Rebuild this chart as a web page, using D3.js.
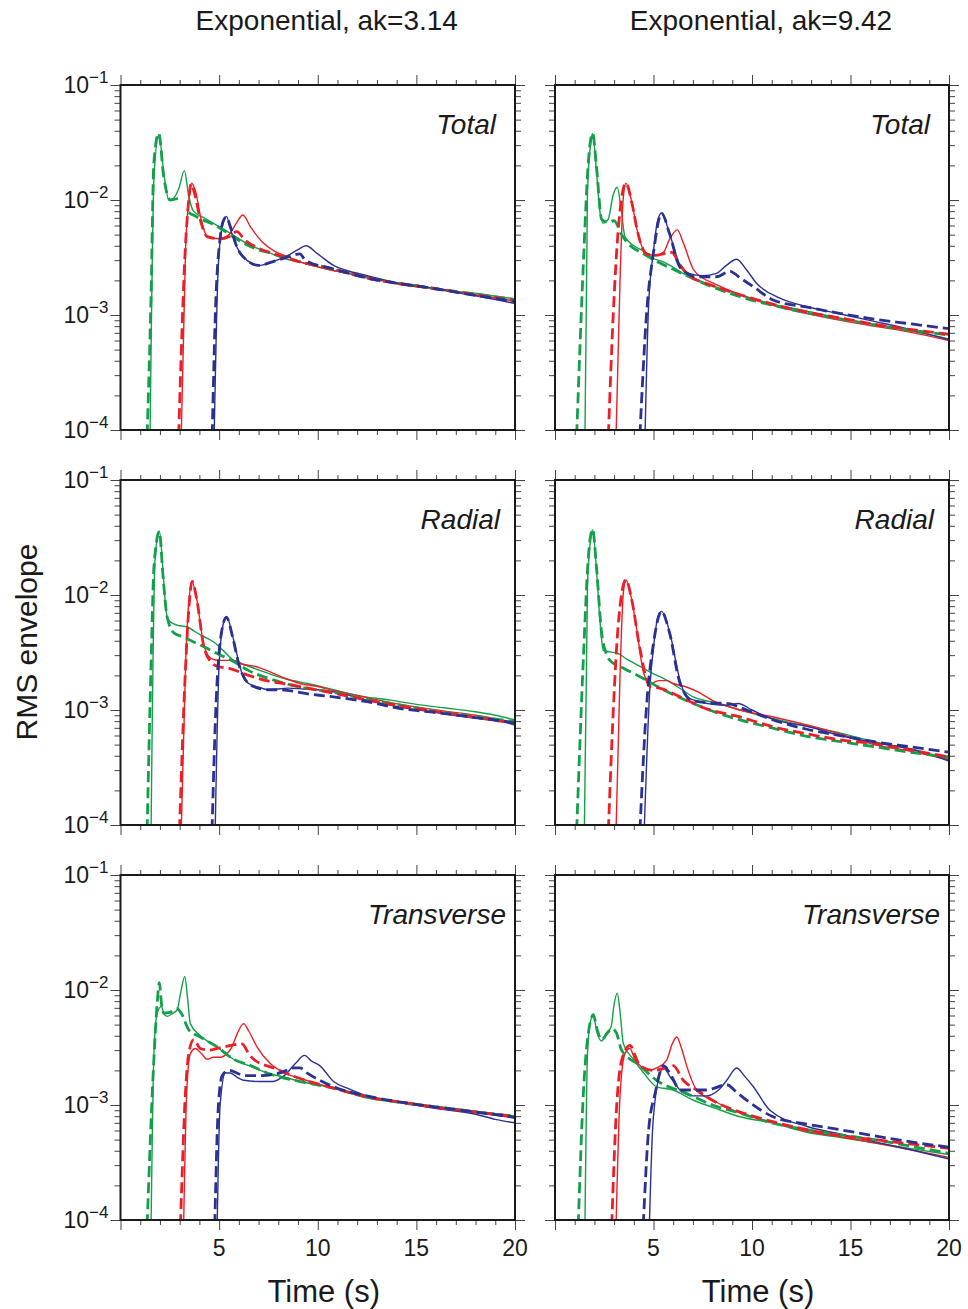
<!DOCTYPE html>
<html>
<head>
<meta charset="utf-8">
<script src="https://cdn.jsdelivr.net/npm/d3@7"></script>
<style>
    body { margin: 0; background: #fff; }
    svg { display: block; font-family: "Liberation Sans", Arial, sans-serif; }
</style>
</head>
<body>
<svg id="fig" width="968" height="1309"></svg>
<script>
////////////////////////////////////////////////////////////
// Données : enveloppes RMS [temps (s), amplitude]        //
// g = vert, r = rouge, b = bleu ; Obs = trait plein,     //
// Mod = tirets (modèle)                                  //
////////////////////////////////////////////////////////////

const columnTitles = ["Exponential, ak=3.14", "Exponential, ak=9.42"];
const rowLabels = ["Total", "Radial", "Transverse"];
const xTickLabels = [5, 10, 15, 20];
const yDecades = [1e-4, 1e-3, 1e-2, 1e-1];
const yExponents = ["−4", "−3", "−2", "−1"];

// Total, ak=3.14
const tA_gObs = [[1.5,9e-5],[1.7,0.016],[1.94,0.037],[2.2,0.017],[2.45,0.0100],[2.7,0.0104],[2.95,0.0125],[3.24,0.018],[3.45,0.011],[3.7,0.0080],[4.3,0.0069],[4.9,0.0060],[5.6,0.0051],[6.5,0.0041],[7.5,0.0035],[8.3,0.0031],[9.1,0.0029],[10.5,0.0025],[11.5,0.0023],[12.5,0.0021],[14,0.0019],[15.2,0.0018],[15.9,0.0017],[16.8,0.0016],[17.5,0.00158],[18.5,0.0015],[20,0.00138]];
const tA_gMod = [[1.35,9e-5],[1.55,0.0015],[1.69,0.021],[1.94,0.038],[2.19,0.016],[2.53,0.0100],[2.8,0.0102],[3.1,0.0108],[3.25,null],[3.45,0.0078],[4.1,0.0068],[4.9,0.0059],[5.7,0.0048],[6.5,0.0040],[7.7,0.0034],[9.1,0.0029],[10.8,0.0025],[12.5,0.0021],[14.2,0.00188],[15.9,0.0017],[18,0.00152],[20,0.00136]];
const tA_rObs = [[3.08,9e-5],[3.3,0.0038],[3.48,0.0105],[3.6,0.014],[3.8,0.012],[4.1,0.0066],[4.4,0.0048],[5.0,0.0046],[5.5,0.0050],[5.9,0.0064],[6.2,0.0074],[6.6,0.0058],[7.2,0.0043],[7.8,0.0036],[8.5,0.0032],[9.1,0.0029],[10.5,0.0025],[12.5,0.00215],[14.5,0.0018],[16,0.0017],[18,0.0015],[20,0.00132]];
const tA_rMod = [[2.95,9e-5],[3.29,0.0039],[3.46,0.0100],[3.58,0.0138],[3.75,0.0115],[4.05,0.0067],[4.4,0.0048],[5.0,0.0046],[5.5,0.0048],[5.9,0.0053],[6.3,0.0045],[7.0,0.0038],[7.8,0.0034],[9.1,0.0029],[10.8,0.0025],[12.5,0.0021],[15.9,0.0017],[18,0.0015],[20,0.00133]];
const tA_bObs = [[4.75,9e-5],[4.95,0.0025],[5.15,0.0058],[5.37,0.0072],[5.6,0.0054],[5.9,0.0039],[6.4,0.0030],[7.0,0.0027],[7.7,0.0029],[8.5,0.0033],[9.0,0.0037],[9.4,0.0040],[10.0,0.0034],[10.8,0.0027],[11.6,0.0024],[12.5,0.0022],[14,0.0019],[15.9,0.0017],[18,0.00147],[20,0.00126]];
const tA_bMod = [[4.65,9e-5],[4.81,0.00104],[5.06,0.0048],[5.25,0.0068],[5.37,0.0071],[5.55,0.006],[5.9,0.0039],[6.4,0.0030],[7.0,0.0027],[7.7,0.0029],[8.5,0.0032],[9.1,0.0034],[9.3,0.0031],[9.5,0.0029],[10.5,0.0026],[12.5,0.0021],[15.9,0.0017],[18,0.00148],[20,0.00131]];

// Total, ak=9.42
const tB_gObs = [[1.52,9e-5],[1.65,0.012],[1.8,0.03],[1.91,0.038],[2.1,0.018],[2.3,0.0075],[2.45,0.0063],[2.7,0.0068],[2.95,0.011],[3.16,0.0129],[3.35,0.0085],[3.55,0.0048],[4.0,0.0040],[4.5,0.0036],[5.0,0.0031],[5.5,0.0029],[6.0,0.0026],[6.5,0.0023],[7.3,0.0020],[8.0,0.0018],[9.5,0.00148],[11,0.00125],[12.8,0.00108],[14.5,0.00094],[16.2,0.00083],[18,0.00073],[20,0.00062]];
const tB_gMod = [[1.1,9e-5],[1.44,0.0028],[1.69,0.021],[1.91,0.038],[2.1,0.02],[2.37,0.0068],[2.7,0.0064],[3.0,0.0066],[3.38,0.0050],[3.64,0.0043],[4.5,0.0034],[5.2,0.0029],[6.0,0.0025],[7.5,0.0019],[9.4,0.00144],[11,0.00122],[12.8,0.00104],[14.5,0.00092],[16.2,0.00082],[18,0.00074],[20,0.00067]];
const tB_rObs = [[3.1,9e-5],[3.3,0.002],[3.47,0.0107],[3.6,0.014],[3.9,0.0095],[4.2,0.0052],[4.65,0.0034],[5.1,0.0033],[5.5,0.0035],[5.8,0.0045],[6.21,0.0055],[6.5,0.0043],[7.02,0.0025],[7.5,0.0021],[8.0,0.0019],[9.4,0.0015],[11,0.00122],[12.8,0.00103],[14.5,0.0009],[16.2,0.0008],[18,0.00071],[20,0.0006]];
const tB_rMod = [[2.71,9e-5],[2.96,0.00104],[3.21,0.0055],[3.6,0.014],[3.9,0.0095],[4.2,0.0052],[4.65,0.0034],[5.1,0.0033],[5.5,0.0034],[5.93,0.0035],[6.3,0.0028],[6.68,0.0023],[8.0,0.0018],[9.4,0.0015],[11,0.00125],[12.8,0.00106],[14.5,0.00094],[16.2,0.00083],[18,0.00075],[20,0.00068]];
const tB_bObs = [[4.57,9e-5],[4.75,0.0012],[5.0,0.0036],[5.2,0.0065],[5.41,0.0077],[5.8,0.0052],[6.35,0.0027],[6.8,0.0023],[7.5,0.0022],[8.2,0.0023],[8.7,0.0027],[9.22,0.00305],[9.7,0.0025],[10.24,0.00188],[11.42,0.0014],[12.8,0.00118],[14.5,0.00102],[16.2,0.00088],[18,0.00075],[20,0.00061]];
const tB_bMod = [[4.31,9e-5],[4.65,0.00104],[4.99,0.0034],[5.41,0.0077],[5.8,0.0052],[6.35,0.0026],[7.2,0.00215],[8.2,0.00215],[8.88,0.0024],[9.4,0.0021],[10.07,0.00176],[11.07,0.00135],[12.8,0.00117],[14.5,0.00103],[16.2,0.00092],[18,0.00084],[20,0.00076]];

// Radial, ak=3.14
const rA_gObs = [[1.55,9e-5],[1.75,0.02],[1.97,0.036],[2.15,0.017],[2.3,0.0075],[2.45,0.0060],[2.7,0.0056],[3.0,0.0054],[3.37,0.0053],[3.7,0.0049],[4.05,0.0045],[4.4,0.0042],[4.73,0.0039],[5.2,0.0033],[5.74,0.0027],[6.5,0.0024],[7.43,0.0021],[8.44,0.00185],[9.5,0.0017],[10.8,0.0015],[12.2,0.00132],[13.67,0.00122],[15,0.00112],[16.5,0.00104],[17.9,0.00097],[19,0.0009],[20,0.00082]];
const rA_gMod = [[1.35,9e-5],[1.55,0.0025],[1.7,0.018],[1.97,0.0356],[2.15,0.015],[2.36,0.0065],[2.7,0.0047],[3.2,0.0043],[3.71,0.0039],[4.3,0.0035],[4.9,0.0031],[5.8,0.0026],[6.5,0.0022],[7.43,0.0019],[9.0,0.0016],[10.8,0.00142],[12.5,0.00124],[14.2,0.0011],[16,0.00098],[18,0.00088],[20,0.00079]];
const rA_rObs = [[3.08,9e-5],[3.3,0.0025],[3.46,0.0085],[3.63,0.013],[3.85,0.0095],[4.22,0.0037],[4.6,0.0028],[5.0,0.0027],[5.4,0.0027],[5.74,0.0027],[6.2,0.0025],[6.8,0.0024],[7.43,0.0022],[8.3,0.0019],[9.1,0.0017],[10.0,0.0016],[10.8,0.00148],[12.5,0.00128],[14.2,0.00112],[16,0.001],[18,0.0009],[20,0.00078]];
const rA_rMod = [[2.99,9e-5],[3.29,0.0022],[3.46,0.0074],[3.63,0.0131],[3.85,0.0095],[4.22,0.0036],[4.6,0.0026],[4.9,0.0024],[5.5,0.0023],[6.5,0.0020],[7.4,0.0018],[8.27,0.0017],[9.5,0.00155],[10.8,0.0014],[12.5,0.00122],[14.2,0.00108],[16,0.00097],[18,0.00086],[20,0.00077]];
const rA_bObs = [[4.8,9e-5],[5.0,0.0025],[5.2,0.0055],[5.37,0.0065],[5.7,0.0043],[6.0,0.0026],[6.24,0.0019],[6.5,0.0017],[7.0,0.00158],[7.5,0.0015],[8.5,0.00155],[9.3,0.00152],[10,0.0015],[11,0.00142],[12.5,0.00122],[14.2,0.00106],[16,0.00095],[18,0.00085],[19,0.00082],[20,0.00074]];
const rA_bMod = [[4.64,9e-5],[4.85,0.0012],[5.1,0.0045],[5.37,0.0064],[5.7,0.0042],[6.0,0.0025],[6.24,0.00195],[6.75,0.0016],[7.5,0.0015],[8.1,0.0015],[9.5,0.00138],[10.8,0.0013],[12.5,0.00118],[14.18,0.00103],[16,0.00095],[18,0.00086],[20,0.00077]];

// Radial, ak=9.42
const rB_gObs = [[1.49,9e-5],[1.65,0.012],[1.8,0.03],[1.91,0.037],[2.1,0.017],[2.3,0.0055],[2.45,0.0033],[2.8,0.0032],[3.2,0.0031],[3.6,0.0028],[4.31,0.0024],[4.9,0.0021],[5.5,0.00188],[6.2,0.0016],[7.02,0.0013],[8.2,0.00115],[9.39,0.001],[11,0.00085],[12.78,0.00072],[14.5,0.00063],[16.2,0.00053],[18,0.00046],[20,0.00037]];
const rB_gMod = [[1.1,9e-5],[1.44,0.0028],[1.69,0.021],[1.91,0.0372],[2.1,0.018],[2.37,0.0046],[2.6,0.0031],[2.79,0.0027],[3.5,0.0023],[4.31,0.00195],[5.5,0.0015],[7.02,0.00114],[8.2,0.00095],[9.39,0.00082],[11,0.0007],[12.78,0.00059],[14.5,0.00053],[16.2,0.00048],[18,0.00043],[20,0.00039]];
const rB_rObs = [[3.1,9e-5],[3.3,0.002],[3.47,0.0105],[3.6,0.0135],[3.9,0.009],[4.15,0.005],[4.5,0.0021],[4.82,0.0017],[5.3,0.0018],[5.7,0.0018],[6.0,0.0017],[6.6,0.0016],[7.2,0.00145],[8.04,0.0012],[9.4,0.001],[11.08,0.00087],[12.8,0.00074],[14.47,0.00062],[16.2,0.0005],[18,0.00044],[20,0.00037]];
const rB_rMod = [[2.71,9e-5],[2.96,0.001],[3.21,0.0055],[3.6,0.0135],[3.9,0.009],[4.3,0.0035],[4.82,0.0016],[5.3,0.00155],[6.35,0.0013],[7.5,0.00105],[9.39,0.00087],[11,0.00072],[12.78,0.00062],[14.5,0.00055],[16.2,0.00051],[18,0.00045],[20,0.00039]];
const rB_bObs = [[4.53,9e-5],[4.82,0.0016],[5.0,0.0035],[5.2,0.0062],[5.41,0.0072],[5.8,0.0049],[6.35,0.0018],[6.68,0.0013],[7.2,0.0012],[8.0,0.00112],[8.7,0.0011],[9.3,0.00114],[10,0.001],[11.07,0.00083],[12.8,0.00072],[14.47,0.0006],[16.2,0.00052],[18,0.00046],[20,0.00036]];
const rB_bMod = [[4.31,9e-5],[4.65,0.0011],[4.99,0.0037],[5.41,0.0072],[5.8,0.0048],[6.35,0.0017],[7.0,0.0012],[8.0,0.00115],[8.72,0.00114],[9.73,0.001],[11.07,0.00082],[12.78,0.00068],[14.47,0.0006],[16.2,0.00053],[18,0.00048],[20,0.00043]];

// Transverse, ak=3.14
const xA_gObs = [[1.55,9e-5],[1.7,0.003],[1.86,0.0063],[2.08,0.0072],[2.2,0.0062],[2.36,0.0059],[2.6,0.0062],[2.87,0.0067],[3.05,0.0095],[3.26,0.0131],[3.4,0.0085],[3.54,0.0051],[4.05,0.0040],[4.5,0.0035],[4.9,0.0032],[5.3,0.0028],[5.74,0.0025],[6.5,0.0022],[7.43,0.0019],[8.3,0.00175],[9.11,0.0016],[10,0.0015],[10.8,0.0014],[12.49,0.00115],[13.5,0.00108],[14.5,0.00105],[15.86,0.00097],[17,0.00092],[18.5,0.00086],[20,0.0008]];
const xA_gMod = [[1.35,9e-5],[1.69,0.00246],[1.86,0.0077],[1.97,0.0116],[2.08,0.0075],[2.19,0.0063],[2.5,0.0064],[2.87,0.0069],[3.1,0.0062],[3.46,0.0045],[4.05,0.0039],[4.9,0.0032],[5.74,0.0025],[6.6,0.0022],[7.43,0.0019],[9.11,0.0016],[10.8,0.0014],[12.49,0.00118],[14.2,0.00105],[15.86,0.00097],[18,0.00087],[20,0.0008]];
const xA_rObs = [[3.2,9e-5],[3.35,0.0012],[3.54,0.0028],[3.8,0.0031],[4.1,0.0028],[4.39,0.0025],[4.7,0.0026],[5.06,0.0026],[5.4,0.0028],[5.65,0.0032],[5.95,0.0043],[6.24,0.0051],[6.5,0.0044],[6.92,0.0032],[7.59,0.00229],[8.3,0.0019],[9.11,0.0017],[10.8,0.0014],[12.49,0.00117],[14.2,0.00105],[15.86,0.00095],[18,0.00086],[20,0.00077]];
const xA_rMod = [[3.04,9e-5],[3.29,0.00126],[3.46,0.0028],[3.71,0.0037],[4.05,0.0031],[4.5,0.0030],[4.9,0.0031],[5.6,0.0033],[6.16,0.0034],[6.5,0.0028],[6.75,0.0025],[7.76,0.0021],[9.11,0.0017],[10.8,0.0014],[12.49,0.00118],[14.2,0.00106],[15.86,0.00096],[18,0.00087],[20,0.00079]];
const xA_bObs = [[4.9,9e-5],[5.05,0.001],[5.32,0.0019],[5.55,0.0019],[5.9,0.00175],[6.24,0.00164],[7.0,0.0016],[7.7,0.0016],[8.3,0.0018],[8.95,0.00238],[9.32,0.0027],[9.7,0.0024],[10.1,0.0022],[10.8,0.0016],[11.5,0.0014],[12.49,0.0012],[14.2,0.00105],[15.86,0.00094],[18,0.00083],[19,0.00075],[20,0.0007]];
const xA_bMod = [[4.78,9e-5],[4.95,0.0009],[5.15,0.0018],[5.49,0.0020],[5.9,0.0019],[6.24,0.0018],[6.92,0.0018],[8.1,0.0019],[8.78,0.0021],[9.1,0.0021],[9.45,0.0019],[10.1,0.00164],[11,0.0014],[12.49,0.0012],[14.2,0.00106],[15.86,0.00097],[18,0.00087],[20,0.00078]];

// Transverse, ak=9.42
const xB_gObs = [[1.52,9e-5],[1.65,0.0028],[1.78,0.0051],[1.95,0.0061],[2.1,0.0045],[2.37,0.0036],[2.6,0.0042],[2.85,0.0048],[3.0,0.0075],[3.16,0.0094],[3.3,0.0065],[3.47,0.0034],[3.98,0.0025],[4.5,0.0019],[5.16,0.00144],[6.0,0.00135],[7.02,0.0011],[8.04,0.00095],[9.39,0.00079],[11,0.0007],[12.78,0.00058],[14.5,0.00052],[16.2,0.00047],[18,0.00042],[20,0.00037]];
const xB_gMod = [[1.18,9e-5],[1.44,0.00126],[1.69,0.0042],[1.95,0.0061],[2.1,0.0048],[2.37,0.0037],[2.65,0.0042],[2.88,0.0046],[3.1,0.0043],[3.38,0.003],[4.31,0.0022],[5.16,0.00164],[6.68,0.00126],[8,0.001],[9.39,0.00085],[11,0.0007],[12.78,0.00061],[14.5,0.00055],[16.2,0.0005],[18,0.00044],[20,0.00038]];
const xB_rObs = [[3.1,9e-5],[3.3,0.0012],[3.55,0.0028],[3.8,0.0031],[4.05,0.0025],[4.31,0.0022],[4.8,0.002],[5.16,0.0021],[5.67,0.00246],[5.95,0.0034],[6.18,0.0039],[6.4,0.0032],[6.68,0.0022],[7.19,0.00135],[8,0.0011],[9.39,0.00085],[11,0.00071],[12.78,0.00059],[14.5,0.00053],[16.2,0.00047],[18,0.00041],[20,0.00035]];
const xB_rMod = [[2.88,9e-5],[3.1,0.0008],[3.4,0.0025],[3.81,0.0033],[4.1,0.0026],[4.31,0.0022],[5.0,0.0020],[5.6,0.0021],[6.0,0.0022],[6.51,0.00164],[7.19,0.00135],[8.2,0.00105],[9.39,0.00087],[11,0.00072],[12.78,0.00061],[14.5,0.00054],[16.2,0.0005],[18,0.00046],[20,0.00042]];
const xB_bObs = [[4.79,9e-5],[4.95,0.0006],[5.08,0.0011],[5.3,0.0018],[5.5,0.0021],[5.9,0.0017],[6.35,0.00135],[7.0,0.0012],[7.7,0.0012],[8.3,0.00135],[8.72,0.00164],[9.22,0.0021],[9.6,0.0018],[10.07,0.00144],[10.91,0.0009],[12.8,0.00065],[14.47,0.00056],[16.2,0.00048],[18,0.00041],[20,0.00034]];
const xB_bMod = [[4.48,9e-5],[4.75,0.0006],[5.08,0.00126],[5.5,0.0022],[5.9,0.0018],[6.35,0.00135],[7.0,0.00135],[7.7,0.00135],[8.72,0.0015],[9.2,0.0013],[9.73,0.0011],[11.07,0.00079],[12.8,0.00068],[14.47,0.00061],[16.2,0.00054],[18,0.00048],[20,0.00043]];


////////////////////////////////////////////////
// Mise en page : colonnes, lignes, couleurs  //
////////////////////////////////////////////////

const cols = [{x0: 120.5, x1: 515}, {x0: 555, x1: 949}];
const rows = [{y0: 85, y1: 430}, {y0: 480, y1: 825}, {y0: 875, y1: 1220}];
const labelInset = [19, 15, 9];        // décalage du libellé par rapport au bord droit
const colorG = "#14a04a", colorR = "#ec1f27", colorB = "#2b3192";

// chaque panneau : [traits pleins], [tirets] dans l'ordre vert, rouge, bleu
const panelCurves = [
    [[tA_gObs, tA_rObs, tA_bObs], [tA_gMod, tA_rMod, tA_bMod]],
    [[tB_gObs, tB_rObs, tB_bObs], [tB_gMod, tB_rMod, tB_bMod]],
    [[rA_gObs, rA_rObs, rA_bObs], [rA_gMod, rA_rMod, rA_bMod]],
    [[rB_gObs, rB_rObs, rB_bObs], [rB_gMod, rB_rMod, rB_bMod]],
    [[xA_gObs, xA_rObs, xA_bObs], [xA_gMod, xA_rMod, xA_bMod]],
    [[xB_gObs, xB_rObs, xB_bObs], [xB_gMod, xB_rMod, xB_bMod]]
];
const curveColors = [colorG, colorR, colorB];

const svg = d3.select("#fig");

// ticks mineurs de l'axe log : 2..9 x chaque décade
const yMinor = [];
[1e-4, 1e-3, 1e-2].forEach(d => { for (let k = 2; k <= 9; k++) yMinor.push(d * k); });
const xMinor = d3.range(1, 20).filter(v => v % 5 !== 0);
const xMajor = [0, 5, 10, 15, 20];

function styleAxis(g) {
    g.select(".domain").remove();
    g.selectAll(".tick line").attr("stroke", "#444").attr("stroke-width", 1);
}


//////////////////////////////
// Dessin des six panneaux  //
//////////////////////////////
rows.forEach((r, ri) => {
    cols.forEach((c, ci) => {
        const x = d3.scaleLinear().domain([0, 20]).range([c.x0, c.x1]);
        const y = d3.scaleLog().domain([1e-4, 1e-1]).range([r.y1, r.y0]);
        const g = svg.append("g");
        const clipId = "clip" + ri + ci;

        g.append("clipPath").attr("id", clipId)
            .append("rect").attr("x", c.x0).attr("y", r.y0)
            .attr("width", c.x1 - c.x0).attr("height", r.y1 - r.y0);

        // ticks sur les quatre côtés, vers l'extérieur
        const sides = [
            [d3.axisLeft, y, yDecades, 10, `translate(${c.x0},0)`],
            [d3.axisLeft, y, yMinor, 6, `translate(${c.x0},0)`],
            [d3.axisRight, y, yDecades, 10, `translate(${c.x1},0)`],
            [d3.axisRight, y, yMinor, 6, `translate(${c.x1},0)`],
            [d3.axisTop, x, xMajor, 10, `translate(0,${r.y0})`],
            [d3.axisTop, x, xMinor, 5, `translate(0,${r.y0})`],
            [d3.axisBottom, x, xMajor, 10, `translate(0,${r.y1})`],
            [d3.axisBottom, x, xMinor, 5, `translate(0,${r.y1})`]
        ];
        sides.forEach(([axisFn, sc, vals, len, tr]) => {
            g.append("g").attr("transform", tr)
                .call(axisFn(sc).tickValues(vals).tickSize(len).tickFormat(""))
                .call(styleAxis);
        });

        // courbes : d'abord les traits pleins, puis les tirets
        const line = d3.line()
            .defined(d => d[1] != null)
            .curve(d3.curveMonotoneX)
            .x(d => x(d[0]))
            .y(d => y(d[1]));
        const plot = g.append("g").attr("clip-path", `url(#${clipId})`);
        const [obs, mod] = panelCurves[ri * 2 + ci];
        obs.forEach((data, k) => {
            plot.append("path").datum(data).attr("d", line)
                .attr("fill", "none").attr("stroke", curveColors[k])
                .attr("stroke-width", 1.4).attr("stroke-linejoin", "round");
        });
        mod.forEach((data, k) => {
            plot.append("path").datum(data).attr("d", line)
                .attr("fill", "none").attr("stroke", curveColors[k])
                .attr("stroke-width", 2.8).attr("stroke-dasharray", "11,5");
        });

        // cadre
        g.append("rect").attr("x", c.x0).attr("y", r.y0)
            .attr("width", c.x1 - c.x0).attr("height", r.y1 - r.y0)
            .attr("fill", "none").attr("stroke", "#1a1a1a").attr("stroke-width", 2);

        // libellé du panneau
        g.append("text").attr("x", c.x1 - labelInset[ri]).attr("y", r.y0 + 49)
            .attr("text-anchor", "end").attr("font-size", 28).attr("font-style", "italic")
            .attr("fill", "#1a1a1a").text(rowLabels[ri]);

        // étiquettes de l'axe y (colonne de gauche seulement)
        if (ci === 0) {
            yDecades.forEach((v, k) => {
                const t = g.append("text").attr("x", c.x0 - 12).attr("y", y(v) + 8)
                    .attr("text-anchor", "end").attr("font-size", 23).attr("fill", "#1a1a1a");
                t.append("tspan").text("10");
                t.append("tspan").attr("dy", -10).attr("font-size", 17).text(yExponents[k]);
            });
        }

        // étiquettes de l'axe x (dernière ligne seulement)
        if (ri === rows.length - 1) {
            xTickLabels.forEach(v => {
                g.append("text").attr("x", x(v)).attr("y", r.y1 + 36)
                    .attr("text-anchor", "middle").attr("font-size", 23)
                    .attr("fill", "#1a1a1a").text(v);
            });
            g.append("text").attr("x", (c.x0 + c.x1) / 2 + 6).attr("y", r.y1 + 82)
                .attr("text-anchor", "middle").attr("font-size", 31)
                .attr("fill", "#1a1a1a").text("Time (s)");
        }

        // titre de colonne
        if (ri === 0) {
            svg.append("text").attr("x", (c.x0 + c.x1) / 2 + 9).attr("y", 30)
                .attr("text-anchor", "middle").attr("font-size", 28)
                .attr("fill", "#1a1a1a").text(columnTitles[ci]);
        }
    });
});

// titre de l'axe y commun
svg.append("text").attr("transform", "translate(37,642) rotate(-90)")
    .attr("text-anchor", "middle").attr("font-size", 30)
    .attr("fill", "#1a1a1a").text("RMS envelope");
</script>
</body>
</html>
